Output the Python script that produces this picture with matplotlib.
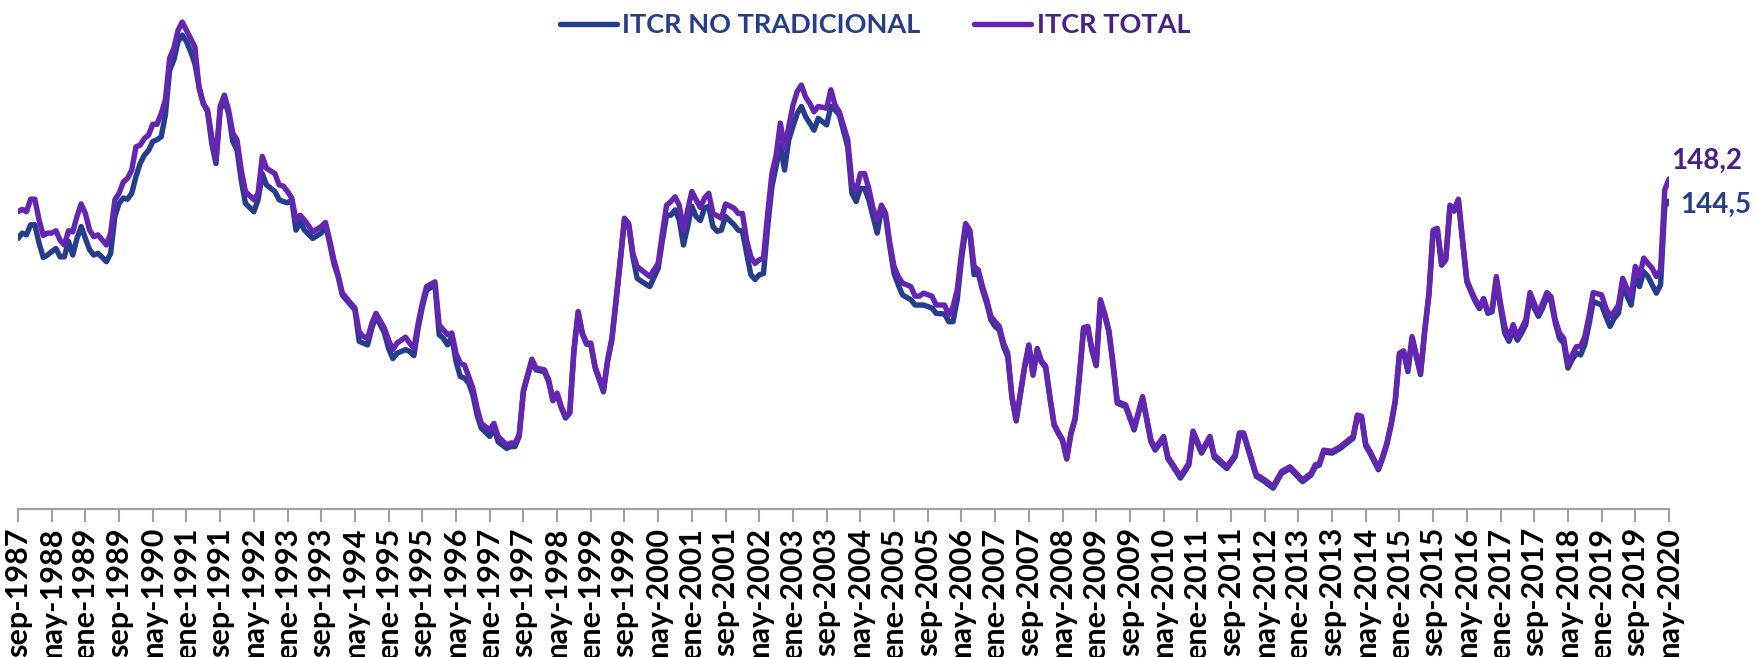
import matplotlib
matplotlib.use('Agg')
import matplotlib.pyplot as plt

# meses transcurridos desde sep-1987
meses = [
    0, 1, 2, 3, 4, 5, 6, 7, 8, 9, 10, 11, 12, 13, 14, 15, 16, 17, 18, 19,
    21, 22, 23, 24, 25, 26, 27, 28, 29, 30, 31, 32, 33, 34, 35, 36, 37, 38, 39, 40,
    41, 42, 43, 44, 45, 46, 47, 48, 49, 50, 51, 52, 53, 54, 56, 57, 58, 59, 61, 62,
    63, 64, 65, 66, 67, 68, 70, 72, 73, 74, 75, 76, 77, 79, 80, 81, 82, 83, 84, 85,
    87, 88, 89, 90, 92, 93, 94, 95, 96, 97, 99, 100, 101, 102, 103, 104, 105, 106, 107, 108,
    109, 110, 112, 113, 114, 116, 117, 118, 119, 120, 121, 122, 123, 125, 126,
    127, 128, 129, 130, 131, 132, 133, 134, 135, 136, 137, 139, 140, 141, 142, 143, 144, 145, 146, 147,
    148, 150, 152, 153, 154, 155, 156, 157, 158, 159, 160, 161, 162, 163, 164, 165, 166, 167, 168, 170,
    171, 172, 173, 174, 175, 176, 177, 178, 179, 180, 181, 182, 183, 184, 185, 186, 187, 188, 189,
    190, 192, 193, 194, 195, 197, 198, 199, 200, 201, 202, 203, 204, 205, 206, 207, 208, 209, 210, 212,
    213, 214, 215, 217, 218, 220, 221, 222, 223, 224, 225, 226, 227, 228, 229, 230, 231, 232, 233, 234, 235,
    236, 237, 238, 239, 240, 241, 242, 243, 244, 245, 246, 247, 248, 249, 250, 251, 252, 253, 254, 255,
    256, 257, 258, 259, 260, 261, 263, 265, 267, 269, 270, 272, 273, 276, 278, 279, 281, 283, 284, 287,
    289, 290, 291, 294, 296, 298, 300, 302, 305, 307, 308, 309, 310, 312, 314, 315, 317,
    318, 319, 320, 321, 323, 324, 325, 326, 327, 328, 329, 330, 331, 332, 333, 334, 335, 336, 337, 338,
    339, 340, 341, 342, 343, 344, 345, 346, 347, 348, 349, 350, 351, 352, 353, 354, 355, 356, 357, 358,
    359, 360, 361, 362, 363, 364, 365, 366, 367, 368, 369, 370, 371, 372, 373, 374, 376, 377, 378, 379,
    380, 381, 382, 383, 384, 385, 386, 387, 388, 389, 390, 391, 392,
]

itcr_total = [
    142.7, 143.1, 142.7, 144.8, 144.8, 141.3, 138.7, 139.1, 139.1, 139.5, 137.9, 137.1, 139.5, 139.3, 141.9, 144.0, 142.4, 139.6, 138.5, 138.8,
    137.1, 139.1, 144.7, 145.8, 147.7, 148.3, 149.7, 153.6, 153.9, 155.0, 155.6, 157.4, 157.4, 159.2, 161.5, 168.5, 170.2, 173.2, 174.6, 173.2,
    171.8, 170.4, 163.4, 160.9, 159.8, 155.3, 151.4, 160.4, 162.3, 159.8, 155.9, 154.8, 149.7, 146.1, 144.7, 145.8, 152.0, 150.0, 149.1, 147.2,
    147.0, 146.1, 145.0, 141.3, 142.1, 141.3, 139.3, 140.2, 140.9, 137.9, 134.6, 132.1, 129.0, 127.3, 126.5, 122.5, 121.7, 121.4, 123.9, 125.6,
    123.1, 121.1, 119.5, 120.6, 121.6, 120.6, 119.7, 123.9, 127.3, 130.1, 130.9, 123.7, 122.8, 122.0, 122.3, 118.9, 117.2, 116.9, 115.0, 113.0,
    109.7, 107.1, 106.0, 107.1, 104.9, 103.5, 103.8, 103.8, 105.2, 112.7, 115.3, 117.9, 116.4, 116.1, 114.4,
    111.1, 112.2, 109.9, 108.3, 108.9, 119.5, 125.9, 122.3, 120.6, 120.6, 116.7, 112.7, 117.8, 121.4, 127.9, 134.6, 141.6, 140.7, 135.7, 133.5,
    132.9, 131.8, 134.0, 139.1, 143.8, 144.4, 145.2, 143.8, 139.6, 143.0, 146.1, 144.7, 143.4, 145.0, 145.8, 142.4, 142.0, 141.6, 144.0, 143.3,
    142.4, 142.4, 137.9, 135.1, 134.0, 134.6, 134.9, 142.4, 149.1, 152.2, 157.6, 153.4, 157.0, 160.6, 162.9, 164.0, 162.0, 160.9, 159.5,
    160.4, 160.1, 163.2, 160.6, 159.5, 154.8, 147.5, 146.1, 149.1, 149.1, 146.6, 143.3, 141.3, 143.8, 142.4, 137.4, 133.5, 131.8, 130.7, 130.1,
    128.5, 128.5, 129.0, 128.5, 127.0, 127.0, 125.3, 126.7, 129.5, 135.7, 140.7, 139.6, 133.5, 132.9, 130.1, 127.9, 125.1, 124.2, 123.4, 120.6, 118.9,
    111.6, 107.7, 112.2, 116.7, 120.3, 115.4, 119.7, 117.6, 116.7, 111.6, 107.0, 105.6, 104.4, 101.3, 105.5, 108.0, 115.0, 123.2, 123.4, 119.5,
    117.0, 127.9, 125.6, 122.8, 117.2, 110.8, 110.2, 106.3, 111.6, 104.3, 102.9, 104.9, 101.5, 98.2, 100.4, 105.8, 102.4, 104.9, 101.8, 99.8,
    101.8, 105.5, 105.5, 98.5, 97.6, 96.5, 99.0, 99.8, 97.6, 98.7, 100.1, 100.4, 102.6, 102.4, 103.2, 103.8, 104.9,
    108.5, 108.3, 103.6, 102.4, 99.6, 101.5, 103.8, 107.0, 111.0, 118.9, 119.3, 116.1, 121.7, 118.6, 115.6, 122.8, 129.0, 139.6, 139.9, 134.0,
    134.9, 143.8, 143.1, 144.8, 137.9, 131.2, 129.5, 127.9, 126.7, 128.1, 125.9, 126.2, 131.8, 127.3, 123.4, 121.4, 123.7, 121.7, 123.1, 124.5,
    129.1, 127.3, 125.6, 127.3, 129.1, 128.4, 124.5, 122.3, 121.4, 117.0, 118.6, 120.0, 120.0, 121.7, 125.1, 129.1, 128.7, 126.5, 125.1, 125.9,
    127.0, 131.5, 129.8, 128.4, 133.5, 131.8, 134.9, 134.0, 133.2, 131.8, 132.9, 146.4, 148.2,
]

itcr_no_trad = [
    138.2, 139.1, 138.8, 140.5, 140.5, 137.4, 135.0, 135.4, 136.0, 136.5, 135.1, 135.1, 137.7, 135.4, 138.2, 140.2, 138.2, 136.3, 135.4, 135.7,
    134.3, 135.7, 141.9, 144.1, 145.0, 144.8, 145.8, 148.6, 150.8, 152.2, 153.0, 154.5, 154.8, 155.3, 159.0, 166.5, 168.2, 171.3, 172.4, 171.3,
    169.6, 167.6, 163.7, 160.9, 159.5, 154.2, 150.8, 159.8, 161.5, 159.2, 154.5, 153.1, 148.0, 144.1, 142.7, 144.7, 149.1, 147.2, 146.1, 144.7,
    144.4, 144.2, 144.7, 139.6, 141.0, 139.6, 138.2, 139.1, 140.5, 137.4, 134.0, 131.8, 128.7, 127.0, 126.2, 120.9, 120.6, 120.3, 123.1, 125.1,
    122.3, 119.7, 118.0, 118.9, 119.5, 119.2, 118.5, 123.1, 126.7, 129.5, 130.4, 122.0, 121.4, 120.3, 121.7, 117.5, 115.0, 114.7, 113.9, 111.9,
    108.5, 106.3, 104.9, 106.3, 104.0, 102.9, 103.2, 103.2, 104.9, 112.4, 115.0, 117.5, 116.1, 115.8, 114.1,
    110.9, 112.0, 109.7, 108.0, 108.8, 119.3, 125.7, 122.1, 120.4, 120.4, 116.5, 112.4, 117.6, 121.1, 127.6, 134.4, 141.4, 140.5, 135.1, 131.5,
    131.0, 130.1, 133.2, 137.9, 142.1, 142.1, 143.0, 141.3, 137.1, 140.2, 143.6, 141.9, 141.2, 143.3, 143.6, 140.2, 139.4, 139.6, 141.9, 140.5,
    139.6, 139.4, 135.7, 132.1, 131.3, 132.1, 132.3, 140.2, 146.9, 150.3, 153.9, 149.7, 154.8, 157.0, 159.2, 160.4, 158.7, 157.6, 156.4,
    158.4, 157.3, 160.4, 159.8, 159.0, 153.6, 145.8, 144.4, 146.6, 146.6, 144.7, 141.9, 139.1, 143.0, 141.9, 136.8, 132.3, 130.4, 128.7, 127.9,
    127.0, 127.0, 127.0, 126.5, 125.6, 125.5, 124.2, 124.2, 127.9, 134.6, 139.6, 139.1, 132.1, 132.3, 129.5, 127.3, 124.5, 123.4, 122.8, 120.0, 118.3,
    111.4, 107.5, 112.0, 116.5, 120.1, 115.2, 119.5, 117.4, 116.5, 111.4, 106.8, 105.4, 104.2, 101.1, 105.3, 107.8, 114.8, 123.0, 123.2, 119.3,
    116.8, 127.6, 125.3, 122.5, 116.9, 110.5, 109.9, 106.0, 111.3, 104.0, 102.6, 104.6, 101.2, 97.9, 100.1, 105.5, 102.1, 104.6, 101.4, 99.5,
    101.5, 105.2, 105.2, 98.2, 97.3, 96.2, 98.7, 99.5, 97.3, 98.4, 99.8, 100.1, 102.3, 102.1, 102.9, 103.5, 104.6,
    108.2, 108.0, 103.3, 102.1, 99.3, 101.2, 103.5, 106.7, 110.7, 118.6, 119.0, 115.8, 121.4, 118.3, 115.3, 122.5, 128.7, 139.3, 139.6, 133.7,
    134.6, 143.5, 142.8, 144.5, 137.6, 130.9, 129.2, 127.6, 126.4, 127.8, 125.6, 125.9, 131.3, 126.5, 122.3, 120.9, 122.8, 121.1, 122.3, 123.7,
    128.4, 126.5, 125.1, 126.5, 128.4, 127.6, 124.0, 121.4, 120.6, 116.4, 117.8, 118.9, 118.6, 120.3, 123.7, 127.6, 127.0, 125.1, 123.4, 124.8,
    125.6, 130.1, 128.6, 127.0, 131.8, 130.1, 132.6, 131.8, 130.4, 129.0, 130.4, 143.6, 144.5,
]

assert len(meses) == len(itcr_total) == len(itcr_no_trad)

meses_abr = ['ene', 'feb', 'mar', 'abr', 'may', 'jun', 'jul', 'ago', 'sep', 'oct', 'nov', 'dic']
anio_ini, mes_ini = 1987, 9
paso = 8
ultimo = 392

azul = '#253C8F'
morado = '#6425B5'
morado_txt = '#4B1F8A'


def etiqueta(m):
    k = mes_ini - 1 + m
    return meses_abr[k % 12] + '-' + str(anio_ini + k // 12)


fig = plt.figure(figsize=(17.55, 6.57), dpi=100)
ax = fig.add_axes([18 / 1755, 148 / 657, 1651 / 1755, 509 / 657])

ax.plot(meses, itcr_no_trad, color=azul, lw=3.9, label='ITCR NO TRADICIONAL',
        solid_joinstyle='round', solid_capstyle='round')
ax.plot(meses, itcr_total, color=morado, lw=3.9, label='ITCR TOTAL',
        solid_joinstyle='round', solid_capstyle='round')

ax.set_xlim(0, ultimo)
ax.set_ylim(92.7, 178.3)

ticks = list(range(0, ultimo + 1, paso))
ax.set_xticks(ticks)
ax.set_xticklabels([etiqueta(t) for t in ticks], rotation=90, fontsize=22,
                   fontweight='bold', family='Lato', color='black')
ax.set_yticks([])
for lado in ['left', 'right', 'top']:
    ax.spines[lado].set_visible(False)
ax.spines['bottom'].set_color('#a0a0a0')
ax.spines['bottom'].set_linewidth(1.5)
ax.tick_params(axis='x', length=9, width=1.5, color='#a0a0a0', pad=4)

leg = fig.legend(loc='center', bbox_to_anchor=(875 / 1755, 1 - 25 / 657), ncol=2,
                 frameon=False, handlelength=2.1, handletextpad=0.2, columnspacing=2.0,
                 prop={'family': 'Lato', 'weight': 'bold', 'size': 19.5})
for txt, c in zip(leg.get_texts(), [azul, morado_txt]):
    txt.set_color(c)

ax.annotate(f'{itcr_total[-1]:.1f}'.replace('.', ','), xy=(meses[-1], itcr_total[-1]),
            xytext=(1.5, 13), textcoords='offset points', ha='left', va='center',
            fontsize=20, fontweight='bold', family='Lato', color=morado_txt)
ax.annotate(f'{itcr_no_trad[-1]:.1f}'.replace('.', ','), xy=(meses[-1], itcr_no_trad[-1]),
            xytext=(8, -3), textcoords='offset points', ha='left', va='center',
            fontsize=20, fontweight='bold', family='Lato', color=azul)

fig.savefig('out.png', dpi=100)
